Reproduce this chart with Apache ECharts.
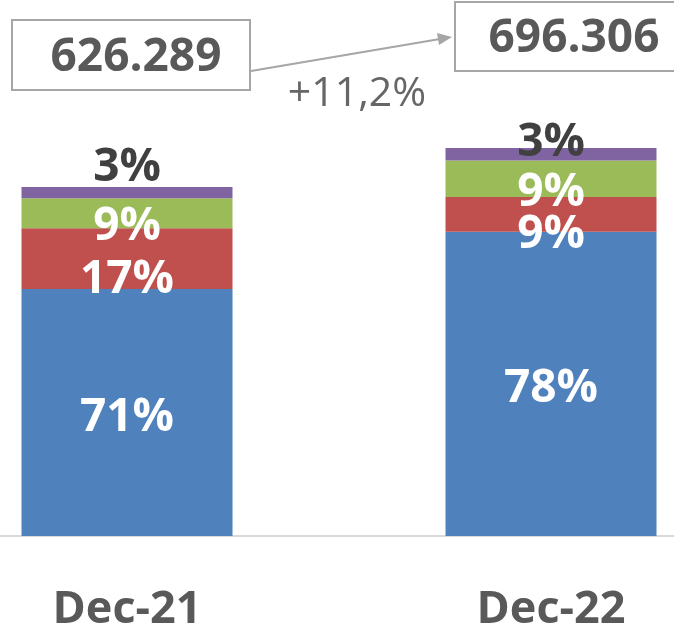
<!DOCTYPE html>
<html>
<head>
<meta charset="utf-8">
<script src="https://cdn.jsdelivr.net/npm/echarts@6/dist/echarts.min.js"></script>
<style>
  html, body { margin: 0; padding: 0; background: #fff; }
  #chart { width: 674px; height: 627px; }
</style>
</head>
<body>
<div id="chart"></div>
<script>
// totals in thousands, shares in percent
const periods = ["Dec-21", "Dec-22"];
const totals = [626.289, 696.306];
const segmentNames = ["Segment A", "Segment B", "Segment C", "Segment D"];
const shareA = [70.8, 78.4];
const shareB = [17.4, 9.0];
const shareC = [8.6, 9.4];
const shareD = [3.2, 3.2];

const colors = ["#4f81bd", "#c0504d", "#9bbb59", "#8064a2"];
const font = "'Open Sans', 'Liberation Sans', sans-serif";
const textGray = "#595959";
const topLabelOffsets = [[0, 9], [0, 23]];
const insideOffsets = [[0, 5], [0, 21], [0, 14]];

function fmtTotal(v) {
  return v.toFixed(3);
}

function fmtGrowth(a, b) {
  const g = (b / a - 1) * 100;
  return "+" + g.toFixed(1).replace(".", ",") + "%";
}

const shares = [shareA, shareB, shareC, shareD];

const series = shares.map((share, i) => {
  const isTop = i === shares.length - 1;
  return {
    name: segmentNames[i],
    type: "bar",
    stack: "total",
    barWidth: 211,
    itemStyle: { color: colors[i] },
    data: share.map((s, j) => ({
      value: totals[j] * s / 100,
      share: s,
      label: isTop ? { offset: topLabelOffsets[j] } : {},
    })),
    label: {
      show: true,
      position: isTop ? "top" : "inside",
      offset: isTop ? undefined : insideOffsets[i],
      color: isTop ? "#404040" : "#ffffff",
      fontFamily: font,
      fontWeight: "bold",
      fontSize: 46,
      formatter: (p) => Math.round(p.data.share) + "%",
    },
  };
});

const chart = echarts.init(document.getElementById("chart"));
chart.setOption({
  animation: false,
  backgroundColor: "#ffffff",
  grid: {
    left: -85, right: -89, top: 34.5, bottom: 91,
    containLabel: false,
    outerBoundsMode: "none",
  },
  xAxis: {
    type: "category",
    data: periods,
    axisLine: { lineStyle: { color: "#d9d9d9", width: 2 } },
    axisTick: { show: false },
    axisLabel: {
      margin: 52,
      color: textGray,
      fontFamily: font,
      fontWeight: "bold",
      fontSize: 45,
    },
  },
  yAxis: {
    type: "value",
    min: 0,
    max: 900,
    show: false,
    splitLine: { show: false },
  },
  series: series,
  graphic: [
    {
      type: "rect",
      shape: { x: 12, y: 20, width: 238, height: 70 },
      style: { fill: "#fff", stroke: "#a6a6a6", lineWidth: 2 },
    },
    {
      type: "text",
      x: 136,
      y: 58,
      style: {
        text: fmtTotal(totals[0]),
        fill: textGray,
        font: "bold 46px " + font,
        align: "center",
        verticalAlign: "middle",
      },
    },
    {
      type: "rect",
      shape: { x: 455, y: 2, width: 240, height: 69 },
      style: { fill: "#fff", stroke: "#a6a6a6", lineWidth: 2 },
    },
    {
      type: "text",
      x: 574,
      y: 39,
      style: {
        text: fmtTotal(totals[1]),
        fill: textGray,
        font: "bold 46px " + font,
        align: "center",
        verticalAlign: "middle",
      },
    },
    {
      type: "line",
      shape: { x1: 251, y1: 71, x2: 440, y2: 39 },
      style: { stroke: "#a6a6a6", lineWidth: 2 },
    },
    {
      type: "polygon",
      shape: { points: [[452, 37], [437, 33], [439, 45]] },
      style: { fill: "#a6a6a6" },
    },
    {
      type: "text",
      x: 357,
      y: 94,
      style: {
        text: fmtGrowth(totals[0], totals[1]),
        fill: "#666666",
        font: "41px " + font,
        align: "center",
        verticalAlign: "middle",
      },
    },
  ],
});
</script>
</body>
</html>
